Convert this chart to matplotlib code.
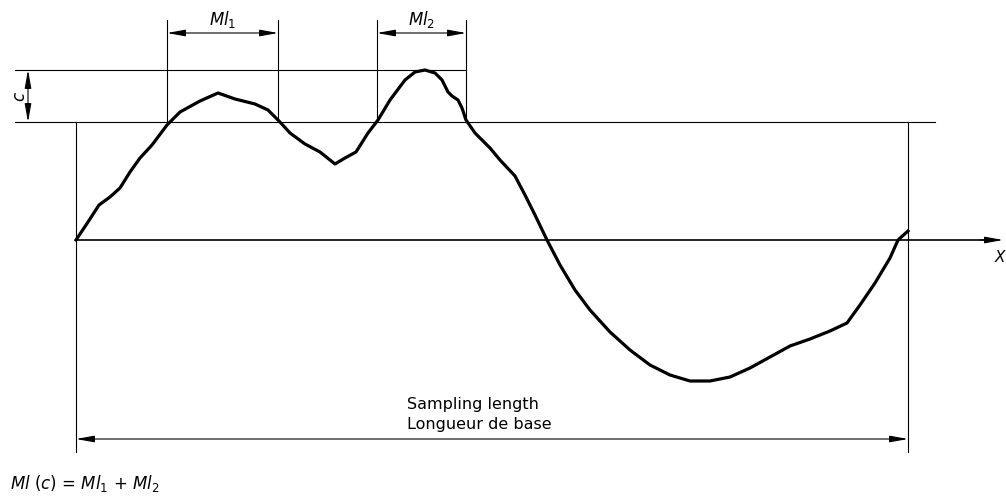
# Roughness profile with material length Ml(c) at cut level c

import matplotlib
matplotlib.use("Agg")
from matplotlib import pyplot as plt

# profile (x along the sampling length, y = height, image units)
profile_x = [76, 88, 99, 110, 120, 130, 140, 152, 167, 180, 200, 218, 235, 255, 268, 280,
             290, 305, 320, 335, 345, 356, 368, 378, 390, 405, 415, 425, 435, 442, 448, 452,
             458, 462, 466, 475, 490, 500, 515, 525, 535, 547, 560, 575, 590, 610, 630, 650,
             670, 690, 710, 730, 750, 770, 790, 810, 830, 847, 860, 875, 890, 898, 908]
profile_y = [240, 222, 205, 197, 188, 172, 158, 145, 125, 112, 101, 93, 99, 104, 110, 122,
             133, 144, 152, 164, 158, 152, 133, 120, 100, 80, 72, 70, 73, 80, 92, 96,
             100, 108, 120, 133, 148, 160, 176, 195, 215, 240, 265, 290, 310, 332, 350, 365,
             375, 381, 381, 377, 368, 357, 346, 339, 331, 323, 305, 283, 258, 240, 231]

# reference lines
mean_line = 240
cut_top = 70      # highest peak
cut_level = 122   # section level c below the peak
sample_start, sample_end = 76, 908
ml_spans = [(167, 278), (377, 466)]
ml_labels = [r"$\mathit{Ml}_1$", r"$\mathit{Ml}_2$"]

LW_THIN = 0.8
fig = plt.figure(figsize=(10.06, 4.97), dpi=100)
ax = fig.add_axes([0, 0, 1, 1])
ax.set_xlim(0, 1006)
ax.set_ylim(497, 0)
ax.axis("off")

def dim_arrow(x0, y0, x1, y1, style="<|-|>"):
    ax.annotate("", xy=(x1, y1), xytext=(x0, y0),
                arrowprops=dict(arrowstyle=f"{style},head_length=1.1,head_width=0.2",
                                color="black", lw=LW_THIN, shrinkA=0, shrinkB=0))

# profile
ax.plot(profile_x, profile_y, color="black", lw=2.3, solid_joinstyle="round", zorder=3)

# X axis (mean line)
ax.plot([sample_start, 985], [mean_line, mean_line], color="black", lw=1.2)
dim_arrow(980, mean_line, 1003, mean_line, style="-|>")
ax.text(995, 258, "X", fontsize=11, style="italic", ha="left", va="center")

# cut level lines
ax.plot([15, ml_spans[1][1]], [cut_top, cut_top], color="black", lw=LW_THIN)
ax.plot([15, 935], [cut_level, cut_level], color="black", lw=LW_THIN)
dim_arrow(28, cut_top, 28, cut_level)
ax.text(19, 96, "c", fontsize=12, style="italic", rotation=90, ha="center", va="center")

# material length spans
for (a, b), lab in zip(ml_spans, ml_labels):
    ax.plot([a, a], [20, cut_level], color="black", lw=LW_THIN)
    ax.plot([b, b], [20, cut_level], color="black", lw=LW_THIN)
    dim_arrow(a, 33, b, 33)
    ax.text((a + b) / 2, 19, lab, fontsize=12, ha="center", va="center")

# sampling length
for x in (sample_start, sample_end):
    ax.plot([x, x], [cut_level, 452], color="black", lw=LW_THIN)
dim_arrow(sample_start, 439, sample_end, 439)
ax.text(407, 405, "Sampling length", fontsize=11.5, ha="left", va="center")
ax.text(407, 424, "Longueur de base", fontsize=11.5, ha="left", va="center")

ax.text(10, 483, r"$\mathit{Ml}$ ($\mathit{c}$) = $\mathit{Ml}_1$ + $\mathit{Ml}_2$",
        fontsize=12, ha="left", va="center")

fig.savefig("out.png", dpi=100)
